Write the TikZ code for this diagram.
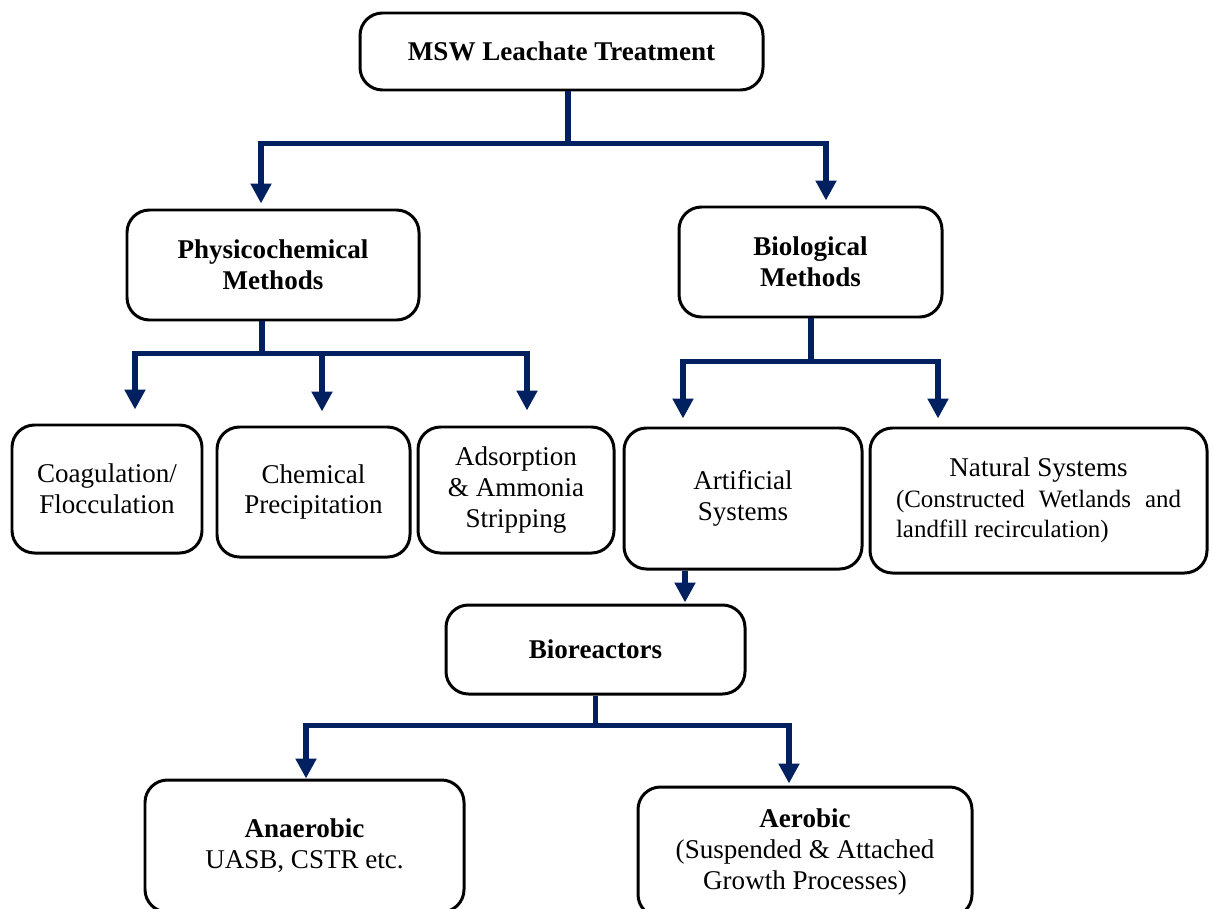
\documentclass[tikz,border=0pt]{standalone}
\usepackage{fontspec}
\setmainfont{Liberation Serif}
\usepackage{tikz}
\usetikzlibrary{arrows.meta, positioning, calc}
\definecolor{linknavy}{RGB}{0, 32, 96}
\newcommand{\natfont}{\fontsize{14.2}{16}\selectfont}

\begin{document}
\begin{tikzpicture}[
  every node/.style={font=\fontsize{15.4}{17.5}\selectfont},
  box/.style={draw=black, line width=1.7pt, rounded corners=0.45cm, fill=white, align=center, inner sep=2pt},
  head/.style={box, font=\fontsize{15.4}{17.5}\selectfont\bfseries},
  link/.style={draw=linknavy, line width=3.4pt},
  arrow/.style={link, -{Triangle[length=0.4cm, width=0.4cm]}, shorten >=0.1cm}
]
  \useasboundingbox (0,0) rectangle (24.26,-18.16);
  \clip (0,0) rectangle (24.26,-18.16);

  % Livello 1
  \node[head, minimum width=8.06cm, minimum height=1.54cm] (msw) at (11.23,-1.03) {MSW Leachate Treatment};

  % Livello 2
  \node[head, minimum width=5.84cm, minimum height=2.2cm] (physico) at (5.46,-5.30) {Physicochemical\\ Methods};
  \node[head, minimum width=5.26cm, minimum height=2.2cm] (bio) at (16.21,-5.24) {Biological\\ Methods};

  % Metodi
  \node[box, minimum width=3.8cm, minimum height=2.56cm] (coag) at (2.14,-9.78) {Coagulation/\\ Flocculation};
  \node[box, minimum width=3.86cm, minimum height=2.6cm] (chem) at (6.27,-9.84) {Chemical\\ Precipitation};
  \node[box, minimum width=3.92cm, minimum height=2.52cm] (adsorp) at (10.32,-9.80) {Adsorption\\ \& Ammonia\\ Stripping};
  \node[box, minimum width=4.76cm, minimum height=2.82cm] (artif) at (14.86,-9.97) {Artificial\\ Systems};
  \node[box, minimum width=6.74cm, minimum height=2.9cm] (natural) at (20.77,-10.01) {Natural Systems\\ {\natfont\makebox[5.7cm][s]{(Constructed Wetlands and}}\\ {\natfont\makebox[5.7cm][l]{landfill recirculation)}}};

  % Bioreattori
  \node[head, minimum width=5.98cm, minimum height=1.78cm] (biorx) at (11.91,-12.99) {Bioreactors};
  \node[box, minimum width=6.38cm, minimum height=2.64cm] (anaer) at (6.09,-16.92) {\textbf{Anaerobic}\\ UASB, CSTR etc.};
  \node[box, minimum width=6.68cm, minimum height=2.6cm] (aerob) at (16.10,-17.04) {\textbf{Aerobic}\\ (Suspended \& Attached\\ Growth Processes)};

  % Collegamenti
  \draw[link] ([xshift=0.13cm]msw.south) -- ++(0,-1.04) coordinate (t1);
  \draw[arrow] (t1) -| ([xshift=-0.24cm]physico.north);
  \draw[arrow] (t1) -| ([xshift=0.31cm]bio.north);

  \draw[link] ([xshift=-0.22cm]physico.south) -- ++(0,-0.64) coordinate (t2);
  \draw[arrow, shorten >=0.28cm] (t2) -| ([xshift=0.56cm]coag.north);
  \draw[arrow, shorten >=0.28cm] (t2) -| ([xshift=0.17cm]chem.north);
  \draw[arrow, shorten >=0.3cm] (t2) -| ([xshift=0.22cm]adsorp.north);

  \draw[link] (bio.south) -- ++(0,-0.86) coordinate (t3);
  \draw[arrow, shorten >=0.16cm] (t3) -| ([xshift=-1.20cm]artif.north);
  \draw[arrow, shorten >=0.16cm] (t3) -| ([xshift=-2.01cm]natural.north);

  \draw[arrow, shorten >=0.02cm] ([xshift=-1.16cm]artif.south) -- ([xshift=-1.16cm]artif.south |- biorx.north);

  \draw[link] (biorx.south) -- ++(0,-0.6) coordinate (t4);
  \draw[arrow, shorten >=0cm] (t4) -| ([xshift=0.03cm]anaer.north);
  \draw[arrow, shorten >=0.04cm] (t4) -| ([xshift=-0.32cm]aerob.north);

\end{tikzpicture}
\end{document}
